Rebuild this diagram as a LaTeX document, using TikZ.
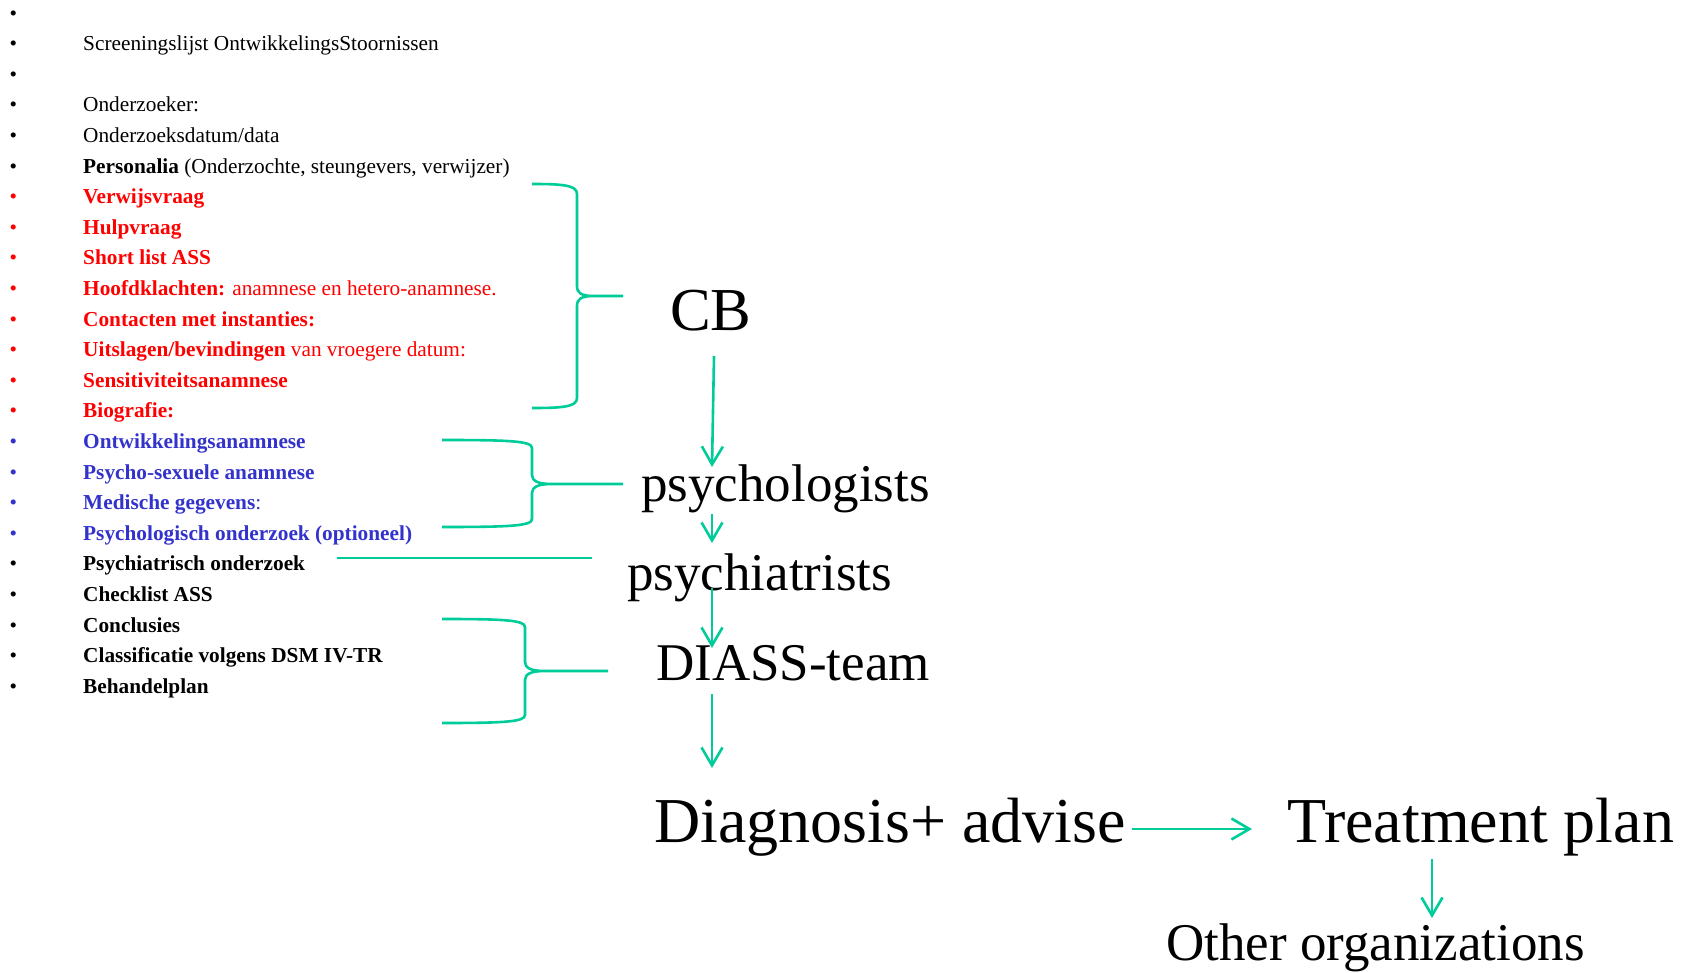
\documentclass[tikz,border=0pt]{standalone}
\usepackage{fontspec}
\setmainfont{Liberation Serif}
\usetikzlibrary{arrows.meta}
\definecolor{lineg}{RGB}{0,204,153}
\definecolor{itemred}{RGB}{255,0,0}
\definecolor{itemblue}{RGB}{51,51,204}
\begin{document}
\begin{tikzpicture}[x=1pt,y=-1pt,
  item/.style={anchor=base west, inner sep=0pt, font=\fontsize{21.3}{25}\selectfont},
  bul/.style={anchor=base, inner sep=0pt, font=\fontsize{21.3}{25}\selectfont},
  big/.style={anchor=base west, inner sep=0pt, font=\fontsize{53}{60}\selectfont},
  huge/.style={anchor=base west, inner sep=0pt, font=\fontsize{64}{70}\selectfont},
  conn/.style={draw=lineg, line width=2.6pt},
  arr/.style={conn, -{Straight Barb[length=18pt,width=21pt]}},
]
\useasboundingbox (0,0) rectangle (1689,973);
\clip (0,0) rectangle (1689,973);

% bullets
\foreach \i/\c in {0/black,1/black,2/black,3/black,4/black,5/black,
  6/itemred,7/itemred,8/itemred,9/itemred,10/itemred,11/itemred,12/itemred,13/itemred,
  14/itemblue,15/itemblue,16/itemblue,17/itemblue,
  18/black,19/black,20/black,21/black,22/black}
  \node[bul,text=\c] (b\i) at (13.3,{20.1+30.6*\i}) {•};

% list items
\node[item] (l1) at (83,{20.1+30.6*1}) {Screeningslijst OntwikkelingsStoornissen};
\node[item] (l3) at (83,{20.1+30.6*3}) {Onderzoeker:};
\node[item] (l4) at (83,{20.1+30.6*4}) {Onderzoeksdatum/data};
\node[item] (l5) at (83,{20.1+30.6*5}) {\textbf{Personalia} (Onderzochte, steungevers, verwijzer)};
\node[item,text=itemred] (l6) at (83,{20.1+30.6*6}) {\textbf{Verwijsvraag}};
\node[item,text=itemred] (l7) at (83,{20.1+30.6*7}) {\textbf{Hulpvraag}};
\node[item,text=itemred] (l8) at (83,{20.1+30.6*8}) {\textbf{Short list ASS}};
\node[item,text=itemred] (l9) at (83,{20.1+30.6*9}) {\textbf{Hoofdklachten:} anamnese en hetero-anamnese.};
\node[item,text=itemred] (l10) at (83,{20.1+30.6*10}) {\textbf{Contacten met instanties:}};
\node[item,text=itemred] (l11) at (83,{20.1+30.6*11}) {\textbf{Uitslagen/bevindingen} van vroegere datum:};
\node[item,text=itemred] (l12) at (83,{20.1+30.6*12}) {\textbf{Sensitiviteitsanamnese}};
\node[item,text=itemred] (l13) at (83,{20.1+30.6*13}) {\textbf{Biografie:}};
\node[item,text=itemblue] (l14) at (83,{20.1+30.6*14}) {\textbf{Ontwikkelingsanamnese}};
\node[item,text=itemblue] (l15) at (83,{20.1+30.6*15}) {\textbf{Psycho-sexuele anamnese}};
\node[item,text=itemblue] (l16) at (83,{20.1+30.6*16}) {\textbf{Medische gegevens}:};
\node[item,text=itemblue] (l17) at (83,{20.1+30.6*17}) {\textbf{Psychologisch onderzoek (optioneel)}};
\node[item] (l18) at (83,{20.1+30.6*18}) {\textbf{Psychiatrisch onderzoek}};
\node[item] (l19) at (83,{20.1+30.6*19}) {\textbf{Checklist ASS}};
\node[item] (l20) at (83,{20.1+30.6*20}) {\textbf{Conclusies}};
\node[item] (l21) at (83,{20.1+30.6*21}) {\textbf{Classificatie volgens DSM IV-TR}};
\node[item] (l22) at (83,{20.1+30.6*22}) {\textbf{Behandelplan}};

% big labels
\node[anchor=base west, inner sep=0pt, font=\fontsize{61}{66}\selectfont] (cb) at (670,331) {CB};
\node[big] (psl) at (641,501) {psychologists};
\node[big] (psi) at (627,590) {psychiatrists};
\node[big] (dia) at (656,680) {DIASS-team};
\node[huge] (dx) at (654,842) {Diagnosis+ advise};
\node[huge] (tp) at (1287,842) {Treatment plan};
\node[big] (oo) at (1166,960) {Other organizations};

% braces
\draw[conn] (532,184) .. controls (562,184) and (577,185) .. (577,194) -- (577,286)
  .. controls (577,293) and (581,296) .. (594,296) -- (623,296)
  (594,296) .. controls (581,296) and (577,299) .. (577,306) -- (577,398)
  .. controls (577,407) and (562,408) .. (532,408);
\draw[conn] (442,440) .. controls (510,440) and (532,441) .. (532,448) -- (532,475)
  .. controls (532,481) and (538,484) .. (552,484) -- (623,484)
  (552,484) .. controls (538,484) and (532,487) .. (532,493) -- (532,519)
  .. controls (532,526) and (510,527) .. (442,527);
\draw[conn] (442,619) .. controls (503,619) and (525,620) .. (525,627) -- (525,662)
  .. controls (525,668) and (531,671) .. (545,671) -- (608,671)
  (545,671) .. controls (531,671) and (525,674) .. (525,680) -- (525,715)
  .. controls (525,722) and (503,723) .. (442,723);
\coordinate (pl0) at (337,558);
\coordinate (pl1) at (592,558);
\draw[conn] (pl0) -- (pl1);

% arrows
\coordinate (a1s) at (714,356); \coordinate (a1e) at (712,467);
\coordinate (a2s) at (712,514); \coordinate (a2e) at (712,543);
\coordinate (a3s) at (712,588); \coordinate (a3e) at (712,648);
\coordinate (a4s) at (712,694); \coordinate (a4e) at (712,768);
\coordinate (a5s) at (1132,829); \coordinate (a5e) at (1252,829);
\coordinate (a6s) at (1432,859); \coordinate (a6e) at (1432,918);
\draw[arr] (a1s) -- (a1e);
\draw[arr] (a2s) -- (a2e);
\draw[arr] (a3s) -- (a3e);
\draw[arr] (a4s) -- (a4e);
\draw[arr] (a5s) -- (a5e);
\draw[arr] (a6s) -- (a6e);
\end{tikzpicture}
\end{document}
